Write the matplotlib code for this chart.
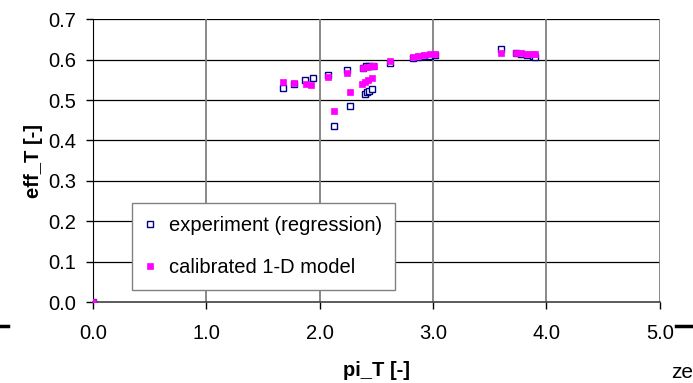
import matplotlib
matplotlib.use("Agg")
import matplotlib.pyplot as plt
from matplotlib.lines import Line2D

plt.rcParams['font.family'] = ['Liberation Sans', 'DejaVu Sans']

# experiment (regression) - hollow navy squares
exp_x = [0.0, 1.68, 1.77, 1.875, 1.94, 2.07, 2.125, 2.24, 2.27, 2.38, 2.41, 2.44, 2.47,
         2.40, 2.42, 2.44, 2.46, 2.62, 2.82, 2.87, 2.92, 2.97, 3.02,
         3.60, 3.73, 3.78, 3.83, 3.88, 3.90]
exp_y = [0.0, 0.530, 0.540, 0.549, 0.555, 0.562, 0.436, 0.574, 0.486, 0.580, 0.583, 0.585, 0.585,
         0.514, 0.519, 0.523, 0.528, 0.592, 0.604, 0.606, 0.608, 0.610, 0.612,
         0.625, 0.617, 0.615, 0.612, 0.610, 0.607]

# calibrated 1-D model - filled magenta squares
mod_x = [0.0, 1.68, 1.77, 1.88, 1.92, 2.07, 2.125, 2.24, 2.27, 2.38, 2.42, 2.46, 2.48,
         2.37, 2.40, 2.43, 2.46, 2.62, 2.82, 2.87, 2.92, 2.97, 3.02,
         3.60, 3.73, 3.78, 3.83, 3.88, 3.90]
mod_y = [0.0, 0.545, 0.543, 0.540, 0.538, 0.558, 0.473, 0.566, 0.519, 0.578, 0.582, 0.583, 0.585,
         0.540, 0.545, 0.550, 0.555, 0.596, 0.607, 0.609, 0.611, 0.613, 0.615,
         0.616, 0.617, 0.616, 0.615, 0.614, 0.613]

x_ticks = [0.0, 1.0, 2.0, 3.0, 4.0, 5.0]
y_ticks = [0.0, 0.1, 0.2, 0.3, 0.4, 0.5, 0.6, 0.7]

fs = 14.5

fig = plt.figure(figsize=(6.93, 3.83), dpi=100)
ax = fig.add_axes([0.134, 0.211, 0.818, 0.739])

ax.plot(exp_x, exp_y, linestyle='none', marker='s', ms=4.2, mfc='white',
        mec='#000080', mew=1.0, label='experiment (regression)', zorder=3)
ax.plot(mod_x, mod_y, linestyle='none', marker='s', ms=4.6, mfc='#ff00ff',
        mec='#ff00ff', mew=0.5, label='calibrated 1-D model', zorder=4)

ax.set_xlim(0, 5)
ax.set_ylim(0, 0.7)
ax.set_xticks(x_ticks)
ax.set_yticks(y_ticks)
ax.set_xticklabels([f"{v:.1f}" for v in x_ticks])
ax.set_yticklabels([f"{v:.1f}" for v in y_ticks])
ax.tick_params(direction='out', length=5, width=1, labelsize=fs)
ax.tick_params(axis='x', pad=11)
ax.tick_params(axis='y', pad=7)

for v in y_ticks[1:]:
    ax.axhline(v, color='black', lw=0.9, zorder=1)
for v in x_ticks[1:]:
    ax.axvline(v, color='#808080', lw=1.3, zorder=1)

for s in ['top', 'right']:
    ax.spines[s].set_visible(False)
ax.spines['left'].set_color('black')
ax.spines['bottom'].set_color('#404040')
ax.spines['bottom'].set_linewidth(1.2)

ax.set_xlabel('pi_T [-]', fontsize=fs, fontweight='bold', labelpad=13)
ax.set_ylabel('eff_T [-]', fontsize=fs, fontweight='bold', labelpad=4)

leg = ax.legend(loc='lower left', bbox_to_anchor=(0.069, 0.042), fontsize=fs,
                frameon=True, fancybox=False, edgecolor='#808080', framealpha=1,
                handlelength=0.5, handletextpad=0.7, borderpad=0.65, labelspacing=1.15,
                borderaxespad=0)
leg.get_frame().set_linewidth(1.0)

# stray artifacts from the source page
fig.add_artist(Line2D([0, 0.011], [0.149, 0.149], color='black', lw=2.5))
fig.add_artist(Line2D([0.975, 1.0], [0.149, 0.149], color='black', lw=2.5))
fig.text(0.968, 0.012, 'ze', fontsize=15, ha='left', va='baseline')

fig.savefig('out.png', dpi=100)
